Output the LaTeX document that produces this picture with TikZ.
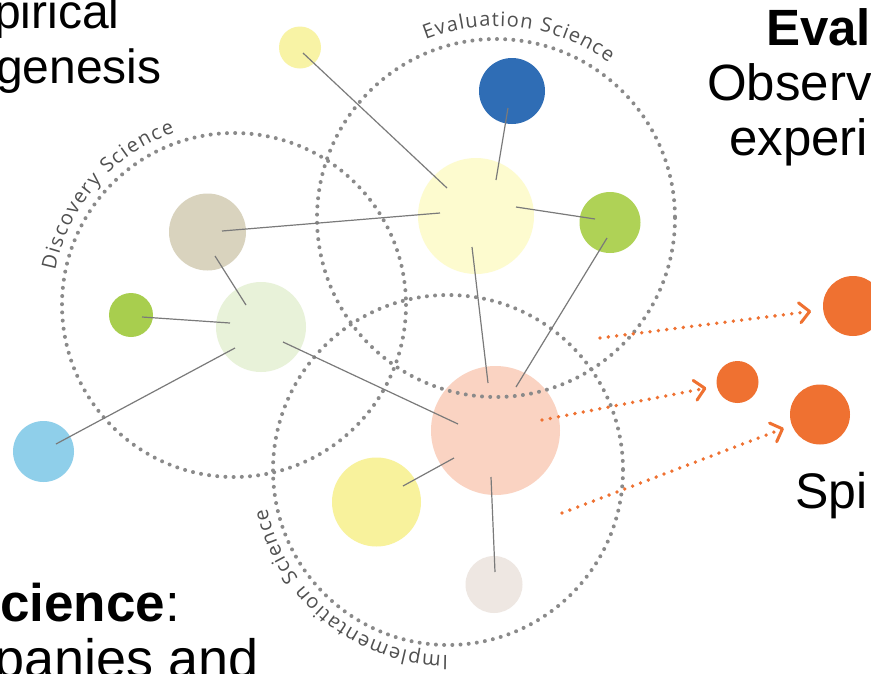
\documentclass[tikz,border=0pt]{standalone}
\usepackage{fontspec}
\newfontfamily\arialf{Liberation Sans}
\newfontfamily\labf{Open Sans}
\usetikzlibrary{calc,decorations.text,arrows.meta}
\definecolor{dotgray}{HTML}{8A8A8A}
\definecolor{linegray}{HTML}{7A7A7A}
\definecolor{labgray}{HTML}{505050}
\definecolor{cSY}{HTML}{F8F3A5}
\definecolor{cBlue}{HTML}{2F6DB5}
\definecolor{cBY}{HTML}{FDFBCF}
\definecolor{cGreen}{HTML}{AFD256}
\definecolor{cTan}{HTML}{D9D3BE}
\definecolor{cSG}{HTML}{A8CE4E}
\definecolor{cPG}{HTML}{E8F2D9}
\definecolor{cLB}{HTML}{8FCFEA}
\definecolor{cPeach}{HTML}{FAD3C2}
\definecolor{cYB}{HTML}{F8F29C}
\definecolor{cBeige}{HTML}{EEE7E2}
\definecolor{cOr}{HTML}{EF7131}
\tikzset{
  ball/.style={circle, inner sep=0pt, draw=none, minimum size=#1},
  dotring/.style={draw=dotgray, line width=4pt, line cap=round, dash pattern=on 0pt off 8.2pt},
  link/.style={draw=linegray, line width=1.2pt},
  orarrow/.style={draw=cOr, line width=3.8pt, line cap=round, dash pattern=on 0pt off 8.4pt,
    -{Straight Barb[round,length=10pt,width=20pt,line width=3pt]}},
  bigtext/.style={anchor=base west, inner sep=0pt, font=\arialf\fontsize{#1}{#1}\selectfont},
  arclabel/.style={decorate, decoration={text along path, text color=labgray,
    text align={fit to path}, text={|\labf\fontsize{20}{20}\selectfont|#1}}}
}
\begin{document}
\begin{tikzpicture}[x=1pt,y=-1pt]
\fill[white] (0,0) rectangle (871,673);
\useasboundingbox (0,0) rectangle (871,673);

% filled circles
\node[ball=42pt, fill=cSY] (sy) at (300,47.5) {};
\node[ball=66pt, fill=cBlue] (bl) at (512,91) {};
\node[ball=116pt, fill=cBY] (by) at (476,216) {};
\node[ball=61pt, fill=cGreen] (gr) at (610,222.5) {};
\node[ball=77pt, fill=cTan] (tn) at (207.5,232) {};
\node[ball=44pt, fill=cSG] (sg) at (131,315) {};
\node[ball=90pt, fill=cPG] (pg) at (261,327) {};
\node[ball=61pt, fill=cLB] (lb) at (43.5,451.5) {};
\node[ball=129pt, fill=cPeach] (pe) at (495.5,430.5) {};
\node[ball=89pt, fill=cYB] (yb) at (376.5,502) {};
\node[ball=57pt, fill=cBeige] (be) at (494,584.5) {};
\node[ball=60pt, fill=cOr] (o1) at (853,306) {};
\node[ball=42pt, fill=cOr] (o2) at (737.5,382) {};
\node[ball=60pt, fill=cOr] (o3) at (820,414.5) {};

% dotted rings
\coordinate (disc) at (234,305);
\coordinate (eval) at (496,218);
\coordinate (impl) at (448,470);
\draw[dotring] (disc) circle[radius=172];
\draw[dotring] (eval) circle[radius=179];
\draw[dotring] (impl) circle[radius=175];

% ring labels
\path[arclabel={Discovery Science}] (disc) ++(191:182) arc[start angle=191, end angle=251, radius=182];
\path[arclabel={Evaluation Science}] (eval) ++(248.5:192) arc[start angle=248.5, end angle=306, radius=192];
\path[arclabel={Implementation Science}] (impl) ++(90:185) arc[start angle=90, end angle=168, radius=185];

% connectors
\draw[link] ($(sy)+(3,5.5)$) -- ($(by)+(-29,-28)$);
\draw[link] ($(bl)+(-4,17)$) -- ($(by)+(20,-36)$);
\draw[link] ($(tn)+(14.5,-1)$) -- ($(by)+(-36,-3)$);
\draw[link] ($(by)+(40,-9)$) -- ($(gr)+(-15,-3.5)$);
\draw[link] ($(gr)+(-3,15.5)$) -- ($(pe)+(20.5,-43.5)$);
\draw[link] ($(by)+(-4,31)$) -- ($(pe)+(-7.5,-47.5)$);
\draw[link] ($(tn)+(7.5,24)$) -- ($(pg)+(-15,-22)$);
\draw[link] ($(sg)+(11,2)$) -- ($(pg)+(-31,-4)$);
\draw[link] ($(pg)+(-26,21)$) -- ($(lb)+(12.5,-7.5)$);
\draw[link] ($(pg)+(22,15)$) -- ($(pe)+(-37.5,-6.5)$);
\draw[link] ($(pe)+(-41.5,27.5)$) -- ($(yb)+(26.5,-16)$);
\draw[link] ($(pe)+(-4.5,46.5)$) -- ($(be)+(1,-12.5)$);

% orange arrows
\coordinate (a1s) at (600,338);
\coordinate (a2s) at (542,420);
\coordinate (a3s) at (562,513);
\draw[orarrow, shorten >=12pt] (a1s) -- (o1);
\draw[orarrow, shorten >=10.5pt] (a2s) -- (o2);
\draw[orarrow, shorten >=8.5pt] (a3s) -- (o3);

% large texts
\node[bigtext=48] (t1) at (-6,28) {pirical};
\node[bigtext=48] (t2) at (-4,83) {genesis};
\node[bigtext=51] (t3) at (766,45) {\bfseries Eval};
\node[bigtext=51] (t4) at (707,100) {Observ};
\node[bigtext=51] (t5) at (729,155) {experi};
\node[bigtext=50] (t6) at (795,508) {Spi};
\node[bigtext=53] (t7) at (0,621) {{\bfseries cience}:};
\node[bigtext=54] (t8) at (-6,677) {panies and};
\end{tikzpicture}
\end{document}
